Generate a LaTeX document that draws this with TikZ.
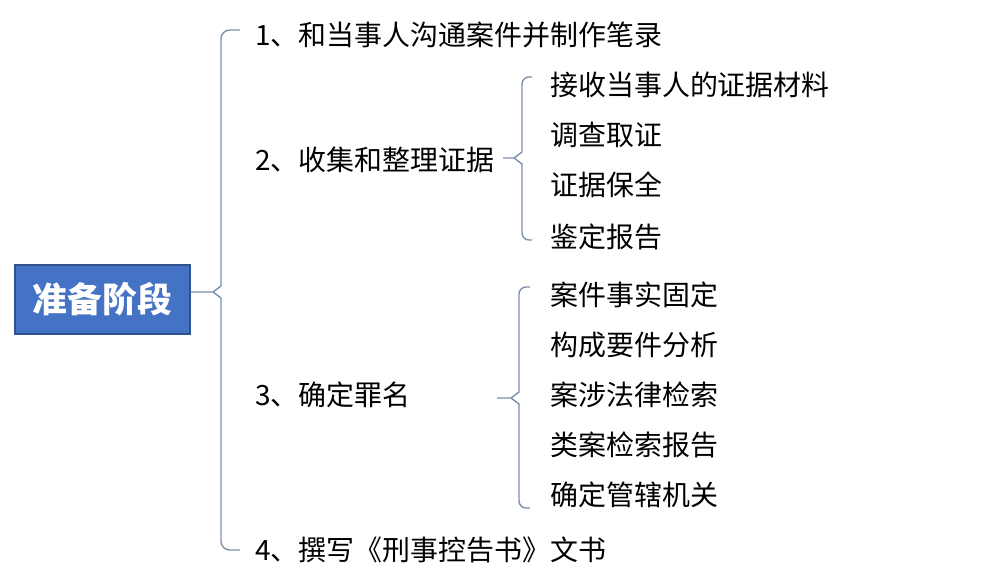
\documentclass[tikz,border=0pt]{standalone}
\usepackage{fontspec}
\setmainfont{Noto Sans CJK SC}
\usetikzlibrary{positioning,calc}
\definecolor{rootblue}{RGB}{68,114,196}
\definecolor{rootedge}{RGB}{47,82,143}
\definecolor{bracec}{RGB}{125,145,172}
\tikzset{
  root/.style={rectangle,draw=rootedge,fill=rootblue,line width=.8pt,minimum width=3.5cm,minimum height=1.38cm,inner sep=0pt,text=white,font=\fontsize{19.8}{20}\selectfont\bfseries},
  itm/.style={anchor=west,inner sep=0pt,font=\fontsize{15.9}{16}\selectfont},
  brc/.style={draw=bracec,line width=.8pt},
}

\begin{document}
\begin{tikzpicture}[x=0.02cm,y=-0.02cm]
\useasboundingbox (0,0) rectangle (1004,588);
% root
\node[root] (root) at (102.5,299.5) {准备阶段};
% first level
\node[itm] (i1) at (255,35) {1、和当事人沟通案件并制作笔录};
\node[itm] (i2) at (255,160) {2、收集和整理证据};
\node[itm] (i3) at (255,395) {3、确定罪名};
\node[itm] (i4) at (255,550) {4、撰写《刑事控告书》文书};
% second level
\foreach \y/\t/\n in {85/接收当事人的证据材料/1, 135/调查取证/2, 185/证据保全/3, 237/鉴定报告/4}
  \node[itm] (a\n) at (550,\y) {\t};
\foreach \y/\t/\n in {295/案件事实固定/1, 345/构成要件分析/2, 395/案涉法律检索/3, 445/类案检索报告/4, 495/确定管辖机关/5}
  \node[itm] (b\n) at (550,\y) {\t};
% braces
\coordinate (m0) at (213,292);
\draw[brc] (root.east |- m0) -- (m0) -- (221,286) [rounded corners=5pt] -- (221,30) -- (240,30);
\draw[brc] (m0) -- (221,298) [rounded corners=5pt] -- (221,550) -- (240,550);
\coordinate (s0) at (514,158);
\draw[brc] (503,158) -- (s0) -- (522,152) [rounded corners=4pt] -- (522,77) -- (532,77);
\draw[brc] (s0) -- (522,164) [rounded corners=4pt] -- (522,240) -- (532,240);
\coordinate (t0) at (511,398);
\draw[brc] (497,398) -- (t0) -- (519,392) [rounded corners=4pt] -- (519,287) -- (530,287);
\draw[brc] (t0) -- (519,404) [rounded corners=4pt] -- (519,508) -- (530,508);
\end{tikzpicture}
\end{document}
